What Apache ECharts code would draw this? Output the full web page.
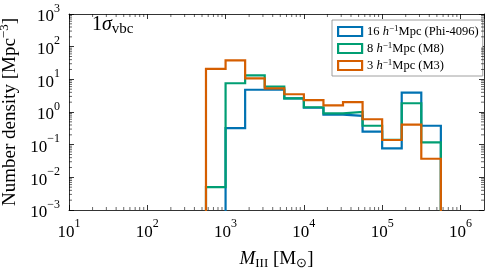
<!DOCTYPE html>
<html><head><meta charset="utf-8">
<script src="https://cdn.jsdelivr.net/npm/echarts@6/dist/echarts.min.js"></script>
<style>html,body{margin:0;padding:0;background:#fff}#c{width:489px;height:274px}</style>
</head><body><div id="c"></div>
<script>
// bin edges (M_sun), 0.25 dex bins
const binEdges = [562, 1000, 1778, 3162, 5623, 10000, 17783, 31623, 56234, 100000, 177828, 316228, 562341];
// number densities per bin [Mpc^-3]
const phi4096 = [0, 0.32, 4.8, 4.8, 2.6, 1.35, 0.83, 0.76, 0.25, 0.077, 3.9, 0.38];
const m8      = [0.005, 7.6, 13.2, 6.0, 2.6, 1.4, 0.91, 1.0, 0.38, 0.14, 1.85, 0.118];
const m3      = [20.8, 38, 10.7, 5.3, 3.5, 2.3, 1.6, 2.0, 0.60, 0.139, 0.41, 0.037];
const seriesNames = ['16 h-1Mpc (Phi-4096)', '8 h-1Mpc (M8)', '3 h-1Mpc (M3)'];
const legendLabels = ['16 {i|h}{sup|\u22121}Mpc (Phi-4096)', '8 {i|h}{sup|\u22121}Mpc (M8)', '3 {i|h}{sup|\u22121}Mpc (M3)'];
const colors = ['#0072B2', '#009E73', '#D55E00'];
const xTickExps = [1, 2, 3, 4, 5, 6];
const yTickExps = [-3, -2, -1, 0, 1, 2, 3];
const annotation = '1{g|\u03c3}{s|vbc}';

const X_MIN = 10, X_MAX = 2e6, Y_MIN = 1e-3, Y_MAX = 1e3, FLOOR = 1e-5;
const FONT = 'Liberation Serif';

function stepData(vals) {
  const pts = [[binEdges[0], FLOOR]];
  vals.forEach((v, i) => pts.push([binEdges[i], v > 0 ? v : FLOOR]));
  pts.push([binEdges[binEdges.length - 1], FLOOR]);
  return pts;
}
function minorTicks(lo, hi) {
  const out = [];
  for (let e = lo; e < hi; e++) for (let m = 2; m <= 9; m++) out.push(m * Math.pow(10, e));
  return out;
}
const xMinor = minorTicks(1, 7).filter(v => v < X_MAX);
const yMinor = minorTicks(-3, 3);

const supRich = {
  b: { fontSize: 17, fontFamily: FONT, color: '#000', padding: [6, 0, 0, 0] },
  s: { fontSize: 12, fontFamily: FONT, color: '#000', padding: [0, 0, 11, 0] }
};
function expLabel(v) {
  const e = Math.round(Math.log10(v));
  return '{b|10}{s|' + (e < 0 ? '\u2212' + (-e) : e) + '}';
}
const lineAx = { lineStyle: { color: '#000', width: 0.8 } };
const tickAx = { inside: true, length: 5, lineStyle: { color: '#000', width: 0.8 } };

const series = [phi4096, m8, m3].map((vals, i) => ({
  name: seriesNames[i], type: 'line', step: 'end', data: stepData(vals),
  symbol: 'none', showSymbol: false, clip: true,
  lineStyle: { color: colors[i], width: 2.2, join: 'miter', cap: 'butt' },
  itemStyle: { color: colors[i], borderColor: colors[i] },
  z: 2 + i, animation: false
}));
series.push({
  type: 'custom', silent: true, animation: false, z: 10,
  data: xMinor.map(v => [v, 1]), encode: { x: 0, y: 1 },
  renderItem: (params, api) => {
    const p = api.coord([api.value(0), 1]);
    const cs = params.coordSys;
    const st = { stroke: '#000', lineWidth: 0.6 };
    return { type: 'group', children: [
      { type: 'line', shape: { x1: p[0], y1: cs.y + cs.height, x2: p[0], y2: cs.y + cs.height - 3 }, style: st },
      { type: 'line', shape: { x1: p[0], y1: cs.y, x2: p[0], y2: cs.y + 3 }, style: st }
    ]};
  }
});
series.push({
  type: 'custom', silent: true, animation: false, z: 10,
  data: yMinor.map(v => [100, v]), encode: { x: 0, y: 1 },
  renderItem: (params, api) => {
    const p = api.coord([100, api.value(1)]);
    const cs = params.coordSys;
    const st = { stroke: '#000', lineWidth: 0.6 };
    return { type: 'group', children: [
      { type: 'line', shape: { x1: cs.x, y1: p[1], x2: cs.x + 3, y2: p[1] }, style: st },
      { type: 'line', shape: { x1: cs.x + cs.width, y1: p[1], x2: cs.x + cs.width - 3, y2: p[1] }, style: st }
    ]};
  }
});

const chart = echarts.init(document.getElementById('c'), null, { renderer: 'canvas' });
chart.setOption({
  animation: false,
  backgroundColor: '#fff',
  grid: { left: 69, right: 5, top: 14, bottom: 64, containLabel: false, outerBoundsMode: 'none' },
  xAxis: [{
    type: 'log', logBase: 10, min: X_MIN, max: X_MAX, splitNumber: 6, position: 'bottom',
    axisLine: lineAx, axisTick: tickAx, splitLine: { show: false }, minorTick: { show: false },
    axisLabel: { formatter: expLabel, margin: 8, rich: supRich, showMaxLabel: false, showMinLabel: true },
    name: '{i|M}{sub|III} [M{sub|\u2299}]', nameLocation: 'middle', nameGap: 38,
    nameTextStyle: { fontFamily: FONT, fontSize: 19, color: '#000', rich: {
      i: { fontFamily: FONT, fontSize: 19, fontStyle: 'italic', color: '#000' },
      sub: { fontFamily: FONT, fontSize: 13, color: '#000', padding: [9, 0, 0, 0] }
    } }
  }, {
    type: 'log', logBase: 10, min: X_MIN, max: X_MAX, splitNumber: 6, position: 'top',
    axisLine: lineAx, axisTick: tickAx, axisLabel: { show: false }, splitLine: { show: false }
  }],
  yAxis: [{
    type: 'log', logBase: 10, min: Y_MIN, max: Y_MAX, splitNumber: 6, position: 'left',
    axisLine: lineAx, axisTick: tickAx, splitLine: { show: false },
    axisLabel: { formatter: expLabel, margin: 9, rich: supRich },
    name: 'Number density [Mpc{s|\u22123}]', nameLocation: 'middle', nameGap: 42, nameRotate: 90,
    nameTextStyle: { fontFamily: FONT, fontSize: 19, color: '#000', rich: {
      s: { fontFamily: FONT, fontSize: 13, color: '#000', padding: [0, 0, 11, 0] }
    } }
  }, {
    type: 'log', logBase: 10, min: Y_MIN, max: Y_MAX, splitNumber: 6, position: 'right',
    axisLine: lineAx, axisTick: tickAx, axisLabel: { show: false }, splitLine: { show: false }
  }],
  legend: {
    orient: 'vertical', left: 332, top: 20, selectedMode: false,
    padding: [4, 4, 4, 5], itemGap: 3, itemWidth: 24, itemHeight: 9,
    borderColor: '#888', borderWidth: 0.8, borderRadius: 0, backgroundColor: '#fff',
    icon: 'rect',
    data: seriesNames.map((n, i) => ({ name: n, itemStyle: { color: '#fff', borderColor: colors[i], borderWidth: 2.2 } })),
    formatter: n => legendLabels[seriesNames.indexOf(n)],
    textStyle: { fontFamily: FONT, fontSize: 12.5, color: '#000', rich: {
      i: { fontFamily: FONT, fontSize: 12.5, fontStyle: 'italic', color: '#000' },
      sup: { fontFamily: FONT, fontSize: 9, color: '#000', padding: [0, 0, 6, 0] }
    } }
  },
  graphic: [{
    type: 'text', left: 92, top: 15, z: 20,
    style: { text: annotation, fontFamily: FONT, fontSize: 20, fill: '#000', rich: {
      g: { fontFamily: FONT, fontSize: 20, fontStyle: 'italic', color: '#000' },
      s: { fontFamily: FONT, fontSize: 15, color: '#000', padding: [8, 0, 0, 0] }
    } }
  }],
  series: series
});
</script></body></html>
